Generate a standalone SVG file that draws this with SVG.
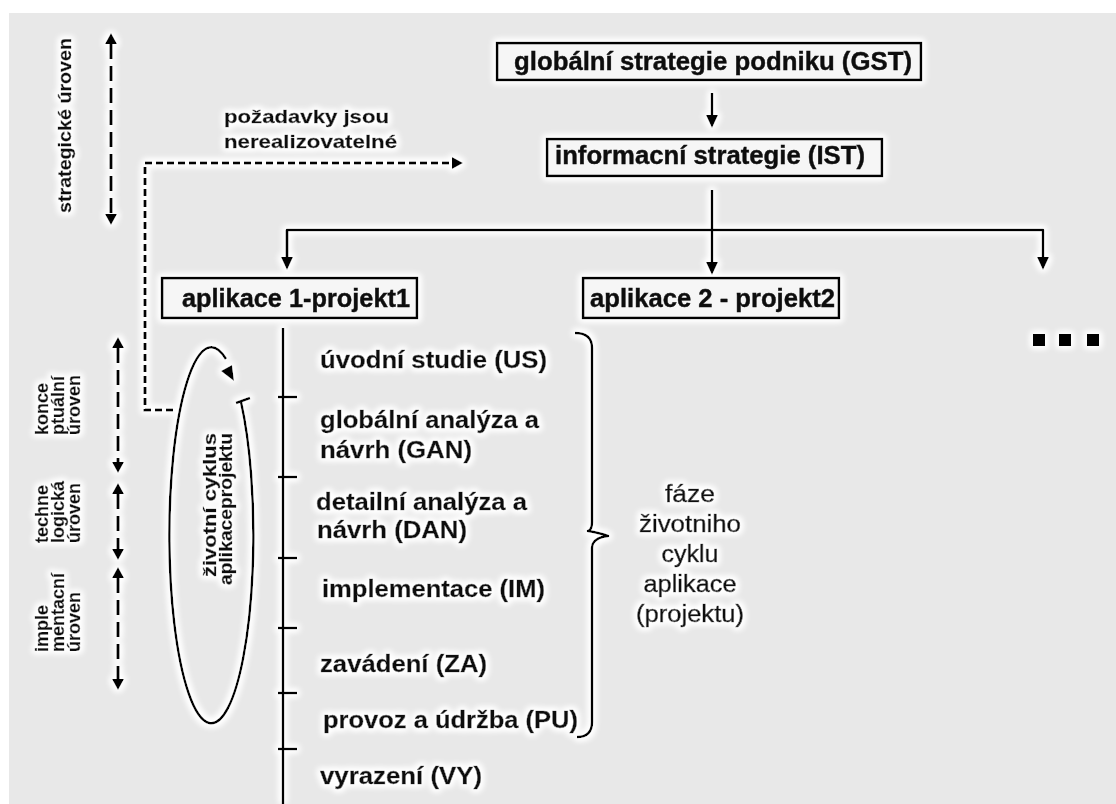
<svg xmlns="http://www.w3.org/2000/svg" width="1116" height="804" viewBox="0 0 1116 804">
  <defs>
    <style>
      .ln { fill: none; stroke: #000; stroke-width: 2.5; stroke-linejoin: round; }
      .dash { fill: none; stroke: #000; stroke-width: 3.2; stroke-dasharray: 15 7; }
      .dash-fine { fill: none; stroke: #000; stroke-width: 3.2; stroke-dasharray: 7 4; }
      .box { fill: #f6f6f6; stroke: #000; stroke-width: 2.5; }
      .t { font-family: "Liberation Sans", Arial, sans-serif; font-weight: bold; fill: #111; stroke: #111; stroke-width: 0.4; }
      .tn { font-family: "Liberation Sans", Arial, sans-serif; font-weight: normal; fill: #111; stroke: #111; stroke-width: 0.6; }
      .box-t { font-size: 25px; }
      .phase { font-size: 23px; }
      .lvl { font-size: 18px; }
    </style>
    <filter id="halo" filterUnits="userSpaceOnUse" x="0" y="0" width="1116" height="804">
      <feMorphology in="SourceAlpha" operator="dilate" radius="2" result="grown"/>
      <feGaussianBlur in="grown" stdDeviation="3" result="soft"/>
      <feFlood flood-color="#ffffff"/>
      <feComposite in2="soft" operator="in" result="glow"/>
      <feMerge>
        <feMergeNode in="glow"/>
        <feMergeNode in="glow"/>
        <feMergeNode in="SourceGraphic"/>
      </feMerge>
    </filter>
    <marker id="head" markerUnits="userSpaceOnUse" markerWidth="13" markerHeight="12" refX="0" refY="6" orient="auto-start-reverse">
      <path d="M0,0 L13,6 L0,12 z" fill="#000"/>
    </marker>
    <marker id="head-s" markerUnits="userSpaceOnUse" markerWidth="11" markerHeight="12" refX="0" refY="6" orient="auto-start-reverse">
      <path d="M0,0 L11,6 L0,12 z" fill="#000"/>
    </marker>
  </defs>

  <!-- page background -->
  <rect x="0" y="0" width="1116" height="804" fill="#ffffff"/>
  <rect x="9" y="13" width="1107" height="791" fill="#e8e8e8"/>

  <g filter="url(#halo)">
    <!-- connectors -->
    <g id="connectors">
      <path class="ln" d="M712 93 V115" marker-end="url(#head)"/>
      <path class="ln" d="M712 190 V262" marker-end="url(#head)"/>
      <path class="ln" d="M287 257 V230 H1043 V257" marker-end="url(#head)"/>
      <path class="ln" d="M287 230 V257" marker-end="url(#head)"/>
      <!-- feedback: requirements cannot be realised -->
      <path class="dash-fine" d="M173 410 H145 V163 H452" marker-end="url(#head-s)"/>
      <!-- level spans -->
      <path class="dash" d="M111 44 V214" marker-start="url(#head-s)" marker-end="url(#head-s)"/>
      <path class="dash" d="M118 348 V462" marker-start="url(#head-s)" marker-end="url(#head-s)"/>
      <path class="dash" d="M118 494 V549" marker-start="url(#head-s)" marker-end="url(#head-s)"/>
      <path class="dash" d="M118 578 V679" marker-start="url(#head-s)" marker-end="url(#head-s)"/>
      <!-- life-cycle loop -->
      <path class="ln" d="M241 402 A42 188 0 1 1 226 359"/>
      <path d="M221 371 L232 365 L234 381 z" fill="#000"/>
      <path class="ln" d="M236 403 L250 398"/>
      <!-- phase timeline -->
      <path class="ln" d="M283 328 V804"/>
      <path class="ln" d="M278 397 H297 M278 477 H297 M278 558 H297 M278 628 H297 M278 693 H297 M278 749 H297"/>
      <!-- phase brace -->
      <path class="ln" d="M575 333 Q592 333 592 348 V522 Q592 530 588 531 Q600 533 608 536 Q592 538 592 548 V722 Q592 737 577 737"/>
    </g>

    <g id="gst">
      <rect class="box" x="497" y="43" width="424" height="37"/>
      <text class="t box-t" x="514" y="70" textLength="398" lengthAdjust="spacingAndGlyphs">globální strategie podniku (GST)</text>
    </g>
    <g id="ist">
      <rect class="box" x="547" y="139" width="335" height="37"/>
      <text class="t box-t" x="555" y="164" textLength="310" lengthAdjust="spacingAndGlyphs">informacní strategie (IST)</text>
    </g>
    <g id="app1">
      <rect class="box" x="162" y="278" width="255" height="40"/>
      <text class="t box-t" x="182" y="307" textLength="228" lengthAdjust="spacingAndGlyphs">aplikace 1-projekt1</text>
    </g>
    <g id="app2">
      <rect class="box" x="583" y="278" width="256" height="40"/>
      <text class="t box-t" x="590" y="307" textLength="245" lengthAdjust="spacingAndGlyphs">aplikace 2 - projekt2</text>
    </g>
    <g id="more">
      <rect x="1033" y="334" width="12" height="12" fill="#000"/>
      <rect x="1059" y="334" width="12" height="12" fill="#000"/>
      <rect x="1087" y="334" width="12" height="12" fill="#000"/>
    </g>

    <g id="feedback-label">
      <text class="t" font-size="19" x="224" y="123" textLength="165" lengthAdjust="spacingAndGlyphs">požadavky jsou</text>
      <text class="t" font-size="19" x="224" y="148" textLength="173" lengthAdjust="spacingAndGlyphs">nerealizovatelné</text>
    </g>

    <g id="level-strategic">
      <text class="t" font-size="19" transform="translate(71,213) rotate(-90)" textLength="175" lengthAdjust="spacingAndGlyphs">strategické úroven</text>
    </g>
    <g id="level-conceptual" class="t lvl">
      <text transform="translate(48,435) rotate(-90)">konce</text>
      <text transform="translate(64,435) rotate(-90)">ptuální</text>
      <text transform="translate(80,435) rotate(-90)">úroven</text>
    </g>
    <g id="level-technological" class="t lvl">
      <text transform="translate(48,543) rotate(-90)">techne</text>
      <text transform="translate(64,543) rotate(-90)">logická</text>
      <text transform="translate(80,543) rotate(-90)">úroven</text>
    </g>
    <g id="level-implementation" class="t lvl">
      <text transform="translate(48,652) rotate(-90)">imple</text>
      <text transform="translate(64,652) rotate(-90)">mentacní</text>
      <text transform="translate(80,652) rotate(-90)">úroven</text>
    </g>

    <g id="lifecycle-label" class="t" font-size="18">
      <text transform="translate(216,577) rotate(-90)" textLength="144" lengthAdjust="spacingAndGlyphs">životní cyklus</text>
      <text transform="translate(232,585) rotate(-90)" textLength="152" lengthAdjust="spacingAndGlyphs">aplikaceprojektu</text>
    </g>

    <g id="phases" class="t phase">
      <text x="320" y="368" textLength="227" lengthAdjust="spacingAndGlyphs">úvodní studie (US)</text>
      <text x="320" y="428" textLength="219" lengthAdjust="spacingAndGlyphs">globální analýza a</text>
      <text x="320" y="458" textLength="152" lengthAdjust="spacingAndGlyphs">návrh (GAN)</text>
      <text x="316" y="510" textLength="211" lengthAdjust="spacingAndGlyphs">detailní analýza a</text>
      <text x="317" y="538" textLength="150" lengthAdjust="spacingAndGlyphs">návrh (DAN)</text>
      <text x="322" y="597" textLength="223" lengthAdjust="spacingAndGlyphs">implementace (IM)</text>
      <text x="320" y="672" textLength="167" lengthAdjust="spacingAndGlyphs">zavádení (ZA)</text>
      <text x="323" y="728" textLength="255" lengthAdjust="spacingAndGlyphs">provoz a údržba (PU)</text>
      <text x="320" y="784" textLength="162" lengthAdjust="spacingAndGlyphs">vyrazení (VY)</text>
    </g>

    <g id="phase-label" class="tn" font-size="23" text-anchor="middle">
      <text x="690" y="502" textLength="50" lengthAdjust="spacingAndGlyphs">fáze</text>
      <text x="690" y="532" textLength="102" lengthAdjust="spacingAndGlyphs">životniho</text>
      <text x="690" y="562" textLength="57" lengthAdjust="spacingAndGlyphs">cyklu</text>
      <text x="690" y="592" textLength="93" lengthAdjust="spacingAndGlyphs">aplikace</text>
      <text x="690" y="622" textLength="108" lengthAdjust="spacingAndGlyphs">(projektu)</text>
    </g>
  </g>
</svg>
